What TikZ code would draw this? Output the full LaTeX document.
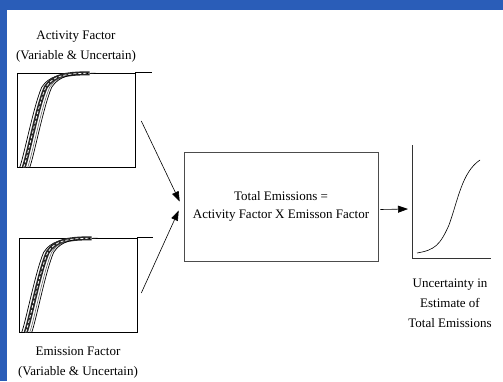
\documentclass[tikz,border=0pt]{standalone}
\usepackage{fontspec}
\setmainfont{Liberation Serif}
\usetikzlibrary{arrows.meta}
\definecolor{slideblue}{HTML}{2A5DB8}

\begin{document}
\begin{tikzpicture}[x=1pt, y=-1pt, semithick,
  chart/.style={draw, minimum width=118pt, minimum height=94pt, inner sep=0pt},
  lbl/.style={align=center, font=\fontsize{13}{20}\selectfont, inner sep=0pt},
  arr/.style={-{Triangle[length=10pt,width=7pt]}, semithick}]
  \useasboundingbox (0,0) rectangle (503,381);
  \fill[slideblue] (0,0) rectangle (503,381);
  \fill[white] (7,10) rectangle (503,381);

  \node [lbl] (actlbl) at (76,47) {Activity Factor\\(Variable \& Uncertain)};
  \node [chart] (actchart) at (76,120) {};
  \node [chart] (emichart) at (78,285) {};
  \node [lbl] (emilbl) at (78,363) {Emission Factor\\(Variable \& Uncertain)};
  \draw (actchart.north east) -- ++(17,0);
  \draw (emichart.north east) -- ++(16,0);

  \foreach \c in {actchart, emichart} {
    \begin{scope}[shift={(\c.south west)}]
      \foreach \dx/\lw/\col in {3/0.7/black, 7/4/black!85, 11/0.6/black!60, 13/0.7/black} {
        \draw [line width=\lw pt, \col] (\dx,0) .. controls (\dx+4,-10) and (\dx+14,-62) .. (\dx+22,-80)
          .. controls (\dx+29,-91) and (\dx+40,-94) .. (\dx+66,-94);
      }
      \draw [white, line width=0.8pt, dash pattern=on 3pt off 2pt]
        (7,0) .. controls (11,-10) and (21,-62) .. (29,-80)
        .. controls (36,-91) and (47,-94) .. (73,-94);
    \end{scope}
  }

  \node [draw=black!70, minimum width=194pt, minimum height=109pt, inner sep=0pt,
    lbl, font=\fontsize{13}{18}\selectfont] (total) at (281,206.5)
    {Total Emissions =\\Activity Factor X Emisson Factor};

  \coordinate (tipa) at ([shift={(-4,-5)}]total.west);
  \coordinate (tipb) at ([shift={(-5,4)}]total.west);
  \draw [arr] ([shift={(6,1)}]actchart.east) -- (tipa);
  \draw [arr] ([shift={(4,8)}]emichart.east) -- (tipb);

  \coordinate (outtip) at (408,209);
  \draw [arr] ([shift={(2,3)}]total.east) -- (outtip);

  \draw [black!80] (412,145) -- (412,258) -- (491,258);
  \draw (417,253) .. controls (435,250) and (440,245) .. (449,225)
    .. controls (458,200) and (462,172) .. (480,160);
  \node [lbl] (outlbl) at (450,303) {Uncertainty in\\Estimate of\\Total Emissions};
\end{tikzpicture}
\end{document}
